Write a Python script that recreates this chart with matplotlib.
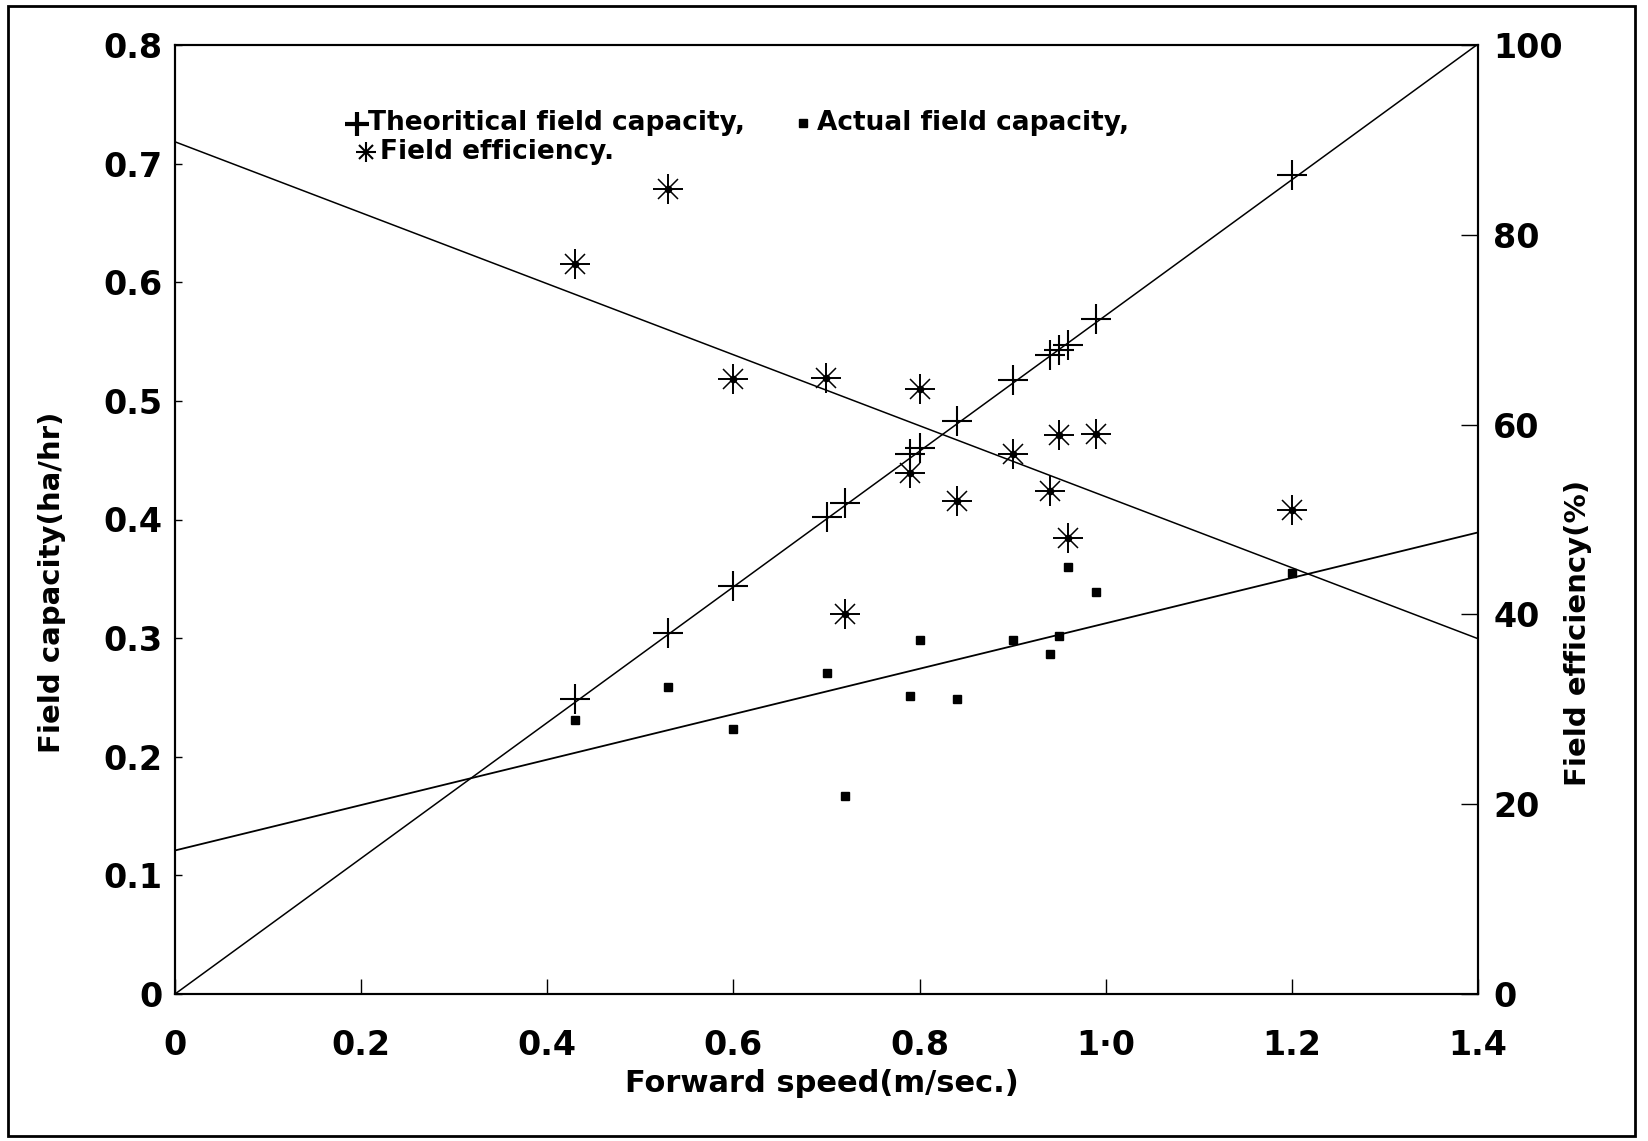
import matplotlib.pyplot as plt
import numpy as np
from matplotlib.patches import Rectangle

plt.rcParams['font.family'] = ['DejaVu Sans']

# forward speed (m/s) of each trial
speed = [0.43, 0.53, 0.60, 0.70, 0.72, 0.79, 0.80, 0.84, 0.90, 0.94, 0.95, 0.96, 0.99, 1.20]
# field capacities (ha/hr)
theoretical = [0.249, 0.304, 0.344, 0.402, 0.414, 0.455, 0.460, 0.483, 0.518, 0.539, 0.543, 0.547, 0.569, 0.690]
actual = [0.231, 0.259, 0.223, 0.271, 0.167, 0.251, 0.298, 0.249, 0.298, 0.287, 0.302, 0.360, 0.339, 0.355]
# field efficiency (%)
efficiency = [76.9, 84.8, 64.8, 64.9, 40.0, 54.9, 63.8, 52.0, 56.9, 53.0, 58.9, 48.0, 59.0, 51.0]

# fitted lines: intercept, slope
theo_fit = [0.0, 0.572]
actual_fit = [0.121, 0.1915]
eff_fit = [89.8, -37.4]

xticks = [0, 0.2, 0.4, 0.6, 0.8, 1.0, 1.2, 1.4]
xtick_labels = ["0", "0.2", "0.4", "0.6", "0.8", "1\u00b70", "1.2", "1.4"]
left_ticks = [0, 0.1, 0.2, 0.3, 0.4, 0.5, 0.6, 0.7, 0.8]
left_labels = ["0", "0.1", "0.2", "0.3", "0.4", "0.5", "0.6", "0.7", "0.8"]
right_ticks = [0, 20, 40, 60, 80, 100]

W, H = 1648, 1141


def fx(x):
    return x / W


def fy(y):
    return 1 - y / H


fig = plt.figure(figsize=(W / 100, H / 100), dpi=100)
ax = fig.add_axes([fx(175), fy(994), (1478 - 175) / W, (994 - 45) / H])
ax2 = ax.twinx()

xs = np.array([0.0, 1.4])
ax.plot(xs, theo_fit[0] + theo_fit[1] * xs, color="black", lw=1.1)
ax.plot(xs, actual_fit[0] + actual_fit[1] * xs, color="black", lw=1.3)
ax2.plot(xs, eff_fit[0] + eff_fit[1] * xs, color="black", lw=1.1)

ax.plot(speed, theoretical, "+", color="black", markersize=22, mew=1.5)
ax.plot(speed, actual, "s", color="black", markersize=5.5)
ax2.plot(speed, efficiency, "+", color="black", markersize=22, mew=1.4)
ax2.plot(speed, efficiency, "x", color="black", markersize=15, mew=1.1)
ax2.plot(speed, efficiency, "o", color="black", markersize=4.5)

ax.set_xlim(0, 1.4)
ax.set_ylim(0, 0.8)
ax2.set_ylim(0, 100)

ax.set_xticks(xticks)
ax.set_xticklabels(xtick_labels, fontsize=24, fontweight="bold")
ax.set_yticks(left_ticks)
ax.set_yticklabels(left_labels, fontsize=24, fontweight="bold")
ax2.set_yticks(right_ticks)
ax2.set_yticklabels([str(t) for t in right_ticks], fontsize=24, fontweight="bold")

ax.tick_params(axis="x", direction="in", length=11, width=1, pad=25)
ax.tick_params(axis="y", direction="in", length=5, width=1, pad=9)
ax2.tick_params(axis="y", direction="in", length=12, width=1, pad=11)

for a in (ax, ax2):
    for s in a.spines.values():
        s.set_linewidth(1.5)

fig.text(fx(822), fy(1083), "Forward speed(m/sec.)", fontsize=22, fontweight="bold",
         ha="center", va="center")
fig.text(fx(52), fy(582), "Field capacity(ha/hr)", fontsize=21, fontweight="bold",
         rotation=90, ha="center", va="center")
fig.text(fx(1578), fy(633), "Field efficiency(%)", fontsize=21, fontweight="bold",
         rotation=90, ha="center", va="center")

# legend drawn as text lines like the original
fig.text(fx(368), fy(123), "Theoritical field capacity,", fontsize=19, fontweight="bold",
         ha="left", va="center")
fig.text(fx(817), fy(123), "Actual field capacity,", fontsize=19, fontweight="bold",
         ha="left", va="center")
fig.text(fx(380), fy(152), "Field efficiency.", fontsize=19, fontweight="bold",
         ha="left", va="center")
fig.lines.append(plt.Line2D([fx(357)], [fy(124)], marker="+", markersize=17, mew=3,
                            color="black", transform=fig.transFigure))
fig.lines.append(plt.Line2D([fx(803)], [fy(123)], marker="s", markersize=6,
                            color="black", transform=fig.transFigure))
fig.lines.append(plt.Line2D([fx(366)], [fy(152)], marker="+", markersize=14, mew=1.5,
                            color="black", transform=fig.transFigure))
fig.lines.append(plt.Line2D([fx(366)], [fy(152)], marker="x", markersize=10, mew=1.5,
                            color="black", transform=fig.transFigure))

fig.add_artist(Rectangle((fx(8), fy(1136)), fx(1635 - 8), (1136 - 6) / H,
                         transform=fig.transFigure, fill=False, lw=2, color="black"))

fig.savefig("out.png", dpi=100)
